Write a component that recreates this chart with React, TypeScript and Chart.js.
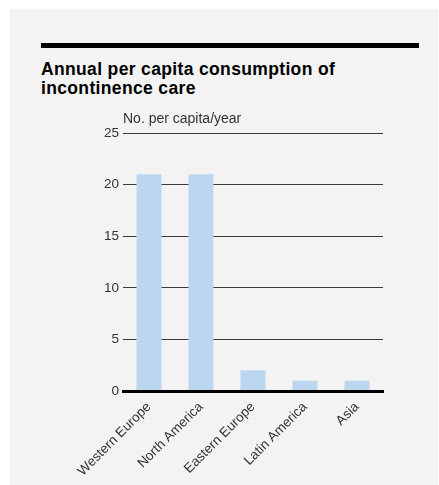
import React, { useEffect, useRef } from "react";
import { Chart, registerables } from "chart.js";

Chart.register(...registerables);

// Annual incontinence-care items used per person, by region
const regions = ["Western Europe", "North America", "Eastern Europe", "Latin America", "Asia"];
const perCapita = [21, 21, 2, 1, 1];
const yTicks = [0, 5, 10, 15, 20, 25];

const FONT = '"Liberation Sans", Arial, Helvetica, sans-serif';

export default function App() {
  const canvasRef = useRef<HTMLCanvasElement | null>(null);

  useEffect(() => {
    const canvas = canvasRef.current;
    if (!canvas) return;
    const chart = new Chart(canvas, {
      type: "bar",
      data: {
        labels: regions,
        datasets: [
          {
            data: perCapita,
            backgroundColor: "#bcd6ef",
            borderWidth: 0,
            categoryPercentage: 1,
            barPercentage: 0.48,
          },
        ],
      },
      options: {
        animation: false,
        responsive: true,
        maintainAspectRatio: false,
        layout: { padding: { left: 0, right: 55, top: 10.6, bottom: 0 } },
        plugins: {
          legend: { display: false },
          tooltip: { enabled: false },
          title: {
            display: true,
            text: "No. per capita/year",
            align: "start",
            fullSize: false,
            color: "#333",
            font: { family: FONT, size: 14, weight: "normal" },
            padding: { top: 0, bottom: 5.6 },
          },
        },
        scales: {
          x: {
            grid: { display: false },
            border: { display: true, color: "#000", width: 3, z: 1 },
            ticks: {
              color: "#333",
              font: { family: FONT, size: 13.5 },
              maxRotation: 45,
              minRotation: 45,
              autoSkip: false,
              padding: 0,
            },
            afterFit: (scale: any) => {
              scale.height = 94;
            },
          },
          y: {
            min: 0,
            max: 25,
            afterBuildTicks: (scale: any) => {
              scale.ticks = yTicks.map((v) => ({ value: v }));
            },
            grid: { color: "#3a3a3a", lineWidth: 1, drawTicks: false },
            border: { display: false },
            ticks: {
              color: "#333",
              font: { family: FONT, size: 13.5 },
              padding: 4,
            },
            afterFit: (scale: any) => {
              scale.width = 113;
            },
          },
        },
      },
    });
    return () => chart.destroy();
  }, []);

  return (
    <div
      style={{
        position: "absolute",
        left: 10,
        top: 9,
        width: 428,
        height: 476,
        background: "#f3f3f3",
        fontFamily: FONT,
      }}
    >
      <div
        style={{
          position: "absolute",
          left: 31,
          top: 34,
          width: 378,
          height: 5,
          background: "#000",
        }}
      />
      <div
        style={{
          position: "absolute",
          left: 31,
          top: 51.4,
          fontSize: 17.5,
          lineHeight: "18.5px",
          letterSpacing: "0.35px",
          fontWeight: "bold",
          color: "#000",
          whiteSpace: "nowrap",
        }}
      >
        Annual per capita consumption of
        <br />
        incontinence care
      </div>
      <div style={{ position: "absolute", left: 0, top: 91, width: 428, height: 385 }}>
        <canvas ref={canvasRef} />
      </div>
    </div>
  );
}
